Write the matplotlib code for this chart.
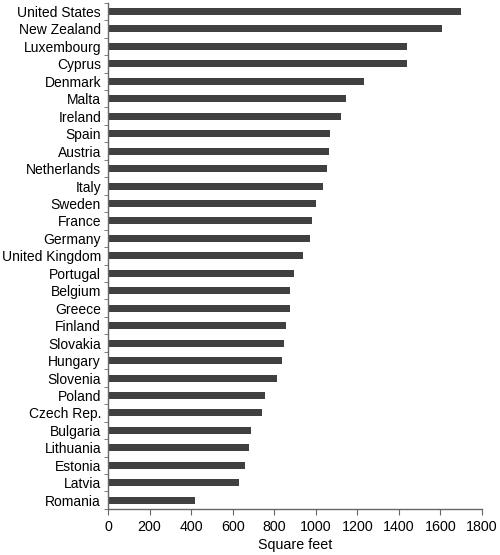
import numpy as np
import matplotlib
matplotlib.use('Agg')
import matplotlib.pyplot as plt

plt.rcParams['font.family'] = ['Liberation Sans', 'DejaVu Sans']

countries = ['United States', 'New Zealand', 'Luxembourg', 'Cyprus', 'Denmark',
             'Malta', 'Ireland', 'Spain', 'Austria', 'Netherlands', 'Italy',
             'Sweden', 'France', 'Germany', 'United Kingdom', 'Portugal',
             'Belgium', 'Greece', 'Finland', 'Slovakia', 'Hungary', 'Slovenia',
             'Poland', 'Czech Rep.', 'Bulgaria', 'Lithuania', 'Estonia',
             'Latvia', 'Romania']
sq_feet = [1701, 1607, 1440, 1440, 1232,
           1147, 1122, 1067, 1062, 1056, 1035,
           1000, 981, 970, 938, 894,
           877, 877, 856, 847, 838, 814,
           758, 739, 690, 679, 659,
           630, 418]
xticks = [0, 200, 400, 600, 800, 1000, 1200, 1400, 1600, 1800]

fig = plt.figure(figsize=(5.0, 5.55), dpi=100)
ax = fig.add_axes([0.216, 0.083, 0.748, 0.912])

pos = np.arange(len(countries))
ax.barh(pos, sq_feet, height=0.4, color='#404040')

ax.set_ylim(len(countries) - 0.5, -0.5)
ax.set_xlim(0, 1800)
ax.set_xticks(xticks)
ax.set_yticks(pos)
ax.set_yticklabels(countries)
ax.set_yticks(np.arange(len(countries) + 1) - 0.5, minor=True)
ax.tick_params(axis='y', which='major', length=0, pad=5, labelsize=10)
ax.tick_params(axis='y', which='minor', length=3, color='#666666', direction='out')
ax.tick_params(axis='x', length=4, color='#666666', labelsize=10.3, pad=4)
ax.set_xlabel('Square feet', fontsize=10.3, labelpad=3)

for s in ['top', 'right']:
    ax.spines[s].set_visible(False)
for s in ['left', 'bottom']:
    ax.spines[s].set_color('#666666')
    ax.spines[s].set_linewidth(1.0)

fig.savefig('out.png', dpi=100)
